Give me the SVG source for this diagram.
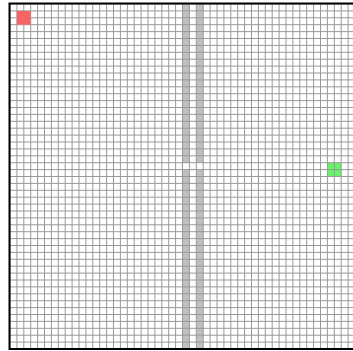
<svg xmlns="http://www.w3.org/2000/svg" width="353" height="351" viewBox="0 0 353 351">
<style>
.wall{fill:#c0c0c0}
.grid{fill:none;stroke:#999999;stroke-width:1}
</style>
<rect width="353" height="351" fill="#ffffff"/>
<g id="walls">
<rect class="wall" x="182.5" y="4" width="6.9" height="158.7"/>
<rect class="wall" x="182.5" y="169.6" width="6.9" height="179.4"/>
<rect class="wall" x="196.3" y="4" width="6.9" height="158.7"/>
<rect class="wall" x="196.3" y="169.6" width="6.9" height="179.4"/>
</g>
<g id="goal"><rect x="327.4" y="162.7" width="13.8" height="13.8" fill="#66f566"/></g>
<g id="grid" transform="translate(10,4) scale(6.9)">
<path class="grid" vector-effect="non-scaling-stroke" d="M0 0V50M1 0V50M2 0V50M3 0V50M4 0V50M5 0V50M6 0V50M7 0V50M8 0V50M9 0V50M10 0V50M11 0V50M12 0V50M13 0V50M14 0V50M15 0V50M16 0V50M17 0V50M18 0V50M19 0V50M20 0V50M21 0V50M22 0V50M23 0V50M24 0V50M25 0V50M26 0V50M27 0V50M28 0V50M29 0V50M30 0V50M31 0V50M32 0V50M33 0V50M34 0V50M35 0V50M36 0V50M37 0V50M38 0V50M39 0V50M40 0V50M41 0V50M42 0V50M43 0V50M44 0V50M45 0V50M46 0V50M47 0V50M48 0V50M49 0V50M50 0V50M0 0H50M0 1H50M0 2H50M0 3H50M0 4H50M0 5H50M0 6H50M0 7H50M0 8H50M0 9H50M0 10H50M0 11H50M0 12H50M0 13H50M0 14H50M0 15H50M0 16H50M0 17H50M0 18H50M0 19H50M0 20H50M0 21H50M0 22H50M0 23H50M0 24H50M0 25H50M0 26H50M0 27H50M0 28H50M0 29H50M0 30H50M0 31H50M0 32H50M0 33H50M0 34H50M0 35H50M0 36H50M0 37H50M0 38H50M0 39H50M0 40H50M0 41H50M0 42H50M0 43H50M0 44H50M0 45H50M0 46H50M0 47H50M0 48H50M0 49H50M0 50H50"/>
</g>
<g id="start"><rect x="16.9" y="10.9" width="13.8" height="13.8" fill="#f46666"/></g>
<rect id="border" x="9.5" y="3.5" width="345" height="345.5" fill="none" stroke="#000000" stroke-width="2"/>
</svg>
